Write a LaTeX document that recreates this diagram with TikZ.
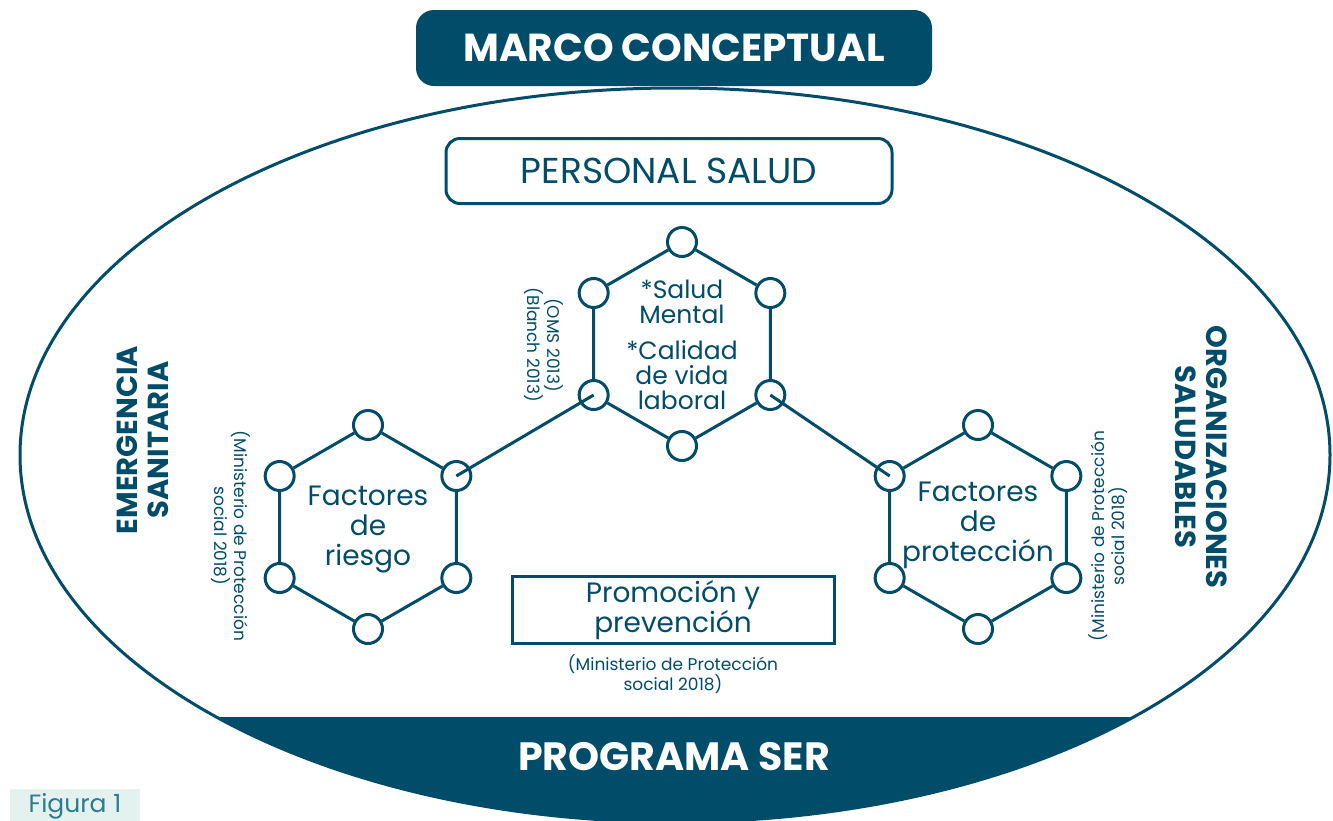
\documentclass[tikz,border=0pt]{standalone}
\usepackage{fontspec}
\setmainfont{Poppins}
\usetikzlibrary{positioning}

\definecolor{marco}{HTML}{014C69}
\definecolor{figfill}{HTML}{E3F2EF}
\definecolor{figtext}{HTML}{2A7D90}

\tikzset{
  hub/.style={circle, draw=marco, fill=white, line width=3pt, minimum size=29pt, inner sep=0pt},
  hexline/.style={draw=marco, line width=3pt},
  hextext/.style={text=marco, align=center, font=\fontsize{28}{29}\selectfont},
  outbox/.style={draw=marco, line width=3pt, text=marco, align=center},
  titlebox/.style={fill=marco, text=white, rounded corners=18pt, font=\fontsize{39}{42}\selectfont\bfseries},
  sidetext/.style={text=marco, align=center, font=\fontsize{29}{31}\selectfont\bfseries},
  smalltext/.style={text=marco, align=center, font=\fontsize{17}{17}\selectfont},
  figlabel/.style={fill=figfill, text=figtext, font=\fontsize{25}{26}\selectfont}
}

\begin{document}
\begin{tikzpicture}[x=1pt,y=-1pt]
  \useasboundingbox (0,0) rectangle (1333,820);

  % outer ellipse with the dark band at its foot
  \begin{scope}
    \clip (675,455) ellipse (655pt and 367pt);
    \fill[marco] (0,717) rectangle (1333,830);
  \end{scope}
  \draw[marco, line width=3pt] (675,455) ellipse (655pt and 367pt);
  \node[text=white, font=\fontsize{39.5}{42}\selectfont\bfseries] (ser) at (674,757) {PROGRAMA SER};

  % title and top box
  \node[titlebox, minimum width=516pt, minimum height=76pt] (marcotitle) at (674,48) {MARCO CONCEPTUAL};
  \node[outbox, rounded corners=14pt, minimum width=446pt, minimum height=65pt,
        font=\fontsize{36}{38}\selectfont] (personal) at (669,171) {PERSONAL SALUD};

  % three hexagons of small circles
  \foreach \h/\cx/\cy in {sm/682/344, fr/368/527, fp/978/527} {
    \foreach \a [count=\i] in {-90,-30,30,90,150,210}
      \node[hub] (\h\i) at ([shift={(\a:102)}]\cx,\cy) {};
    \draw[hexline] (\h1) -- (\h2) -- (\h3) -- (\h4) -- (\h5) -- (\h6) -- (\h1);
  }

  % links between the hexagons
  \draw[hexline] (sm5.center) -- (fr2.center);
  \draw[hexline] (sm3.center) -- (fp6.center);

  % hexagon texts
  \node[hextext, font=\fontsize{25}{25}\selectfont, inner sep=1pt] (smtxt) at (682,345)
    {*Salud\\Mental\\[11pt]*Calidad\\de vida\\laboral};
  \node[hextext, font=\fontsize{28}{30}\selectfont] (frtxt) at (368,530) {Factores\\de\\riesgo};
  \node[hextext, font=\fontsize{28}{30}\selectfont] (fptxt) at (978,525) {Factores\\de\\protección};
  \node[smalltext, rotate=-90] (smref) at (544,345) {(OMS 2013)\\(Blanch 2013)};

  % promotion box
  \node[outbox, minimum width=322pt, minimum height=67pt,
        font=\fontsize{28}{24}\selectfont] (promo) at (673,610) {Promoción y\\prevención};
  \node[smalltext, below=6pt of promo] (promoref) {(Ministerio de Protección\\social 2018)};

  % side labels
  \node[sidetext, rotate=90] (emerg) at (143,440) {EMERGENCIA\\SANITARIA};
  \node[smalltext, rotate=-90] (frref) at (231,536) {(Ministerio de Protección\\social 2018)};
  \node[sidetext, rotate=-90] (orgs) at (1201,457) {ORGANIZACIONES\\SALUDABLES};
  \node[smalltext, rotate=90] (fpref) at (1108,536) {(Ministerio de Protección\\social 2018)};

  % caption tab
  \node[figlabel, minimum width=130pt, minimum height=34pt] (fig) at (75,806) {Figura 1};
\end{tikzpicture}
\end{document}
